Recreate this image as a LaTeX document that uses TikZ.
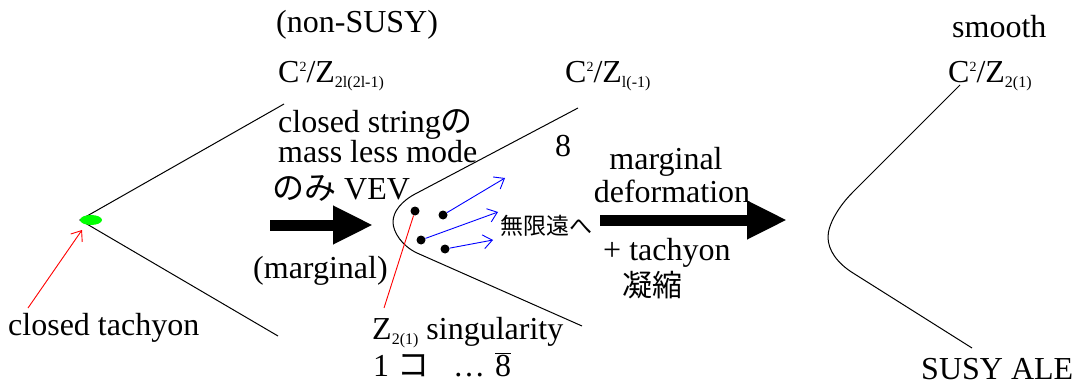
\documentclass[tikz,border=0pt]{standalone}
\usepackage{fontspec}
\setmainfont{Liberation Serif}
\newfontfamily\serif{Liberation Serif}
\newfontfamily\jp{Noto Sans CJK JP}
\usetikzlibrary{arrows.meta, positioning}

\newcommand{\up}[1]{\raisebox{11pt}{\fontsize{14}{14}\selectfont #1}}
\newcommand{\dn}[1]{\raisebox{-5pt}{\fontsize{16}{16}\selectfont #1}}

\begin{document}
\begin{tikzpicture}[x=1pt, y=-1pt,
        txt/.style={inner sep=0pt, font=\serif\fontsize{32}{25}\selectfont},
        wall/.style={line width=1pt},
        push/.style={line width=11pt, -{Triangle[length=40pt, width=36pt]}},
        escape/.style={blue, line width=0.9pt, -{Straight Barb[length=9pt, width=14pt]}},
        pointer/.style={red, line width=0.9pt},
        dot/.style={circle, fill, inner sep=0pt, minimum size=9pt}
    ]
    \useasboundingbox (0,0) rectangle (1074,385);

    % left: non-SUSY orbifold with tachyon
    \draw[wall] (284,104) -- (80,220) -- (278,336);
    \fill[green] (91,220) ellipse (11pt and 5pt);
    \coordinate (tachtip) at (82,230);
    \coordinate (tachtail) at (28,308);
    \draw[pointer, -{Straight Barb[length=9pt, width=14pt]}] (tachtail) -- (tachtip);
    \node[txt, anchor=base west] (tach) at (8,335) {closed tachyon};

    \node[txt, anchor=base west] (nonsusy) at (276,33) {(non-SUSY)};
    \node[txt, anchor=base west] (orbA) at (278,83) {C\up{2}/Z\dn{2l(2l-1)}};

    \node[txt, anchor=base west] (cs1) at (278,133) {closed string{\jp の}};
    \node[txt, anchor=base west] (cs2) at (278,163) {mass less mode};
    \node[txt, anchor=base west] (cs3) at (272,200) {{\jp のみ} VEV};
    \node[txt, anchor=base west] (marg) at (253,278) {(marginal)};

    \coordinate (pushA1) at (270,225);
    \coordinate (pushA2) at (373,225);
    \draw[push] (pushA1) -- (pushA2);

    % middle: Z_{2(1)} singularities
    \draw[wall] (578,108) -- (417,193)
        .. controls (401,201) and (393,212) .. (393,222)
        .. controls (393,232) and (402,246) .. (417,253) -- (582,326);
    \node[txt, anchor=base west] (orbB) at (565,83) {C\up{2}/Z\dn{l(-1)}};
    \node[txt, anchor=base west] (eight) at (555,157) {8};

    \node[dot] (d1) at (415,211) {};
    \node[dot] (d2) at (443,215) {};
    \node[dot] (d3) at (421,240) {};
    \node[dot] (d4) at (445,249) {};
    \coordinate (far2) at (505,178);
    \coordinate (far3) at (498,212);
    \coordinate (far4) at (493,240);
    \draw[escape] (d2) -- (far2);
    \draw[escape] (d3) -- (far3);
    \draw[escape] (d4) -- (far4);
    \node[inner sep=0pt, font=\jp\fontsize{23}{23}\selectfont] (inf) at (546,226) {無限遠へ};

    \coordinate (singtop) at (384,308);
    \draw[pointer] (d1) -- (singtop);
    \node[txt, anchor=base west] (sing) at (372,339) {Z\dn{2(1)} singularity};
    \node[txt, anchor=base west] (count) at (373,376)
        {1\hspace{8pt}{\jp\smash{コ}}\hspace{24pt}\dots\hspace{10pt}$\overline{\hbox{8}}$};

    % transition
    \coordinate (pushB1) at (600,220);
    \coordinate (pushB2) at (787,220);
    \draw[push] (pushB1) -- (pushB2);
    \node[txt, anchor=base] (deform1) at (666,170) {marginal};
    \node[txt, anchor=base] (deform2) at (672,202) {deformation};
    \node[txt, anchor=base west] (plus) at (603,260) {+ tachyon};
    \node[inner sep=0pt, font=\jp\fontsize{30}{30}\selectfont] (cond) at (652,285) {凝縮};

    % right: smooth ALE
    \draw[wall] (960,85) -- (853,192)
        .. controls (838,207) and (828,225) .. (828,237)
        .. controls (828,250) and (837,263) .. (853,273) -- (972,348);
    \node[txt, anchor=base west] (smooth) at (952,38) {smooth};
    \node[txt, anchor=base west] (orbC) at (948,83) {C\up{2}/Z\dn{2(1)}};
    \node[txt, anchor=base west] (ale) at (921,379) {SUSY ALE};
\end{tikzpicture}
\end{document}
